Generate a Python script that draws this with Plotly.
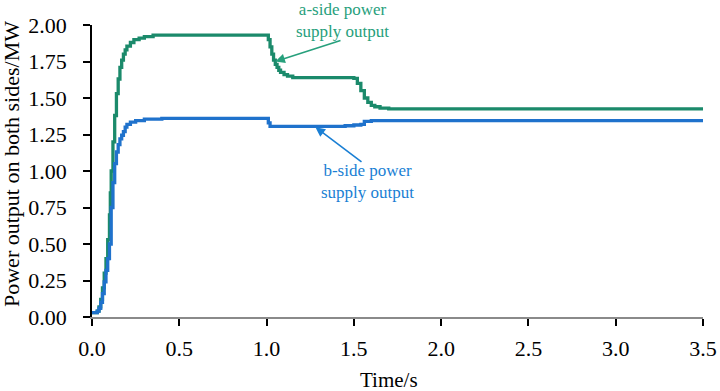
import plotly.graph_objects as go

# a-side power supply output (MW)
t_a = [0.00, 0.02, 0.03, 0.04, 0.05, 0.06, 0.07, 0.08, 0.09, 0.10, 0.105, 0.11, 0.12, 0.13, 0.14,
       0.15, 0.16, 0.17, 0.18, 0.19, 0.20, 0.22, 0.24, 0.27, 0.30, 0.35, 1.00, 1.01, 1.02, 1.03,
       1.04, 1.05, 1.06, 1.07, 1.08, 1.10, 1.12, 1.15, 1.50, 1.52, 1.54, 1.56, 1.58, 1.60, 1.62,
       1.65, 1.70, 3.50]
p_a = [0.03, 0.03, 0.04, 0.07, 0.12, 0.20, 0.30, 0.40, 0.53, 0.70, 0.85, 1.00, 1.20, 1.38, 1.53,
       1.63, 1.71, 1.76, 1.80, 1.83, 1.855, 1.88, 1.90, 1.91, 1.92, 1.93, 1.93, 1.90, 1.85, 1.80,
       1.76, 1.73, 1.71, 1.69, 1.675, 1.66, 1.65, 1.64, 1.635, 1.60, 1.55, 1.50, 1.47, 1.45, 1.44,
       1.43, 1.425, 1.425]

# b-side power supply output (MW)
t_b = [0.00, 0.02, 0.03, 0.04, 0.05, 0.06, 0.07, 0.08, 0.09, 0.10, 0.11, 0.12, 0.13, 0.14, 0.15,
       0.16, 0.17, 0.18, 0.19, 0.20, 0.22, 0.25, 0.30, 0.40, 1.00, 1.01, 1.02, 1.40, 1.45, 1.50,
       1.54, 1.56, 1.60, 3.50]
p_b = [0.03, 0.03, 0.04, 0.06, 0.10, 0.16, 0.24, 0.32, 0.40, 0.50, 0.75, 0.92, 1.05, 1.13, 1.18,
       1.22, 1.245, 1.27, 1.30, 1.32, 1.335, 1.345, 1.355, 1.36, 1.36, 1.33, 1.305, 1.305, 1.31, 1.315,
       1.32, 1.34, 1.345, 1.345]

x_ticks = [0.0, 0.5, 1.0, 1.5, 2.0, 2.5, 3.0, 3.5]
y_ticks = [0.00, 0.25, 0.50, 0.75, 1.00, 1.25, 1.50, 1.75, 2.00]

GREEN = "#1b8a6b"
BLUE = "#1f72cc"
GREEN_T = "#27a07c"
BLUE_T = "#1a7fd4"
FONT = "Liberation Serif"

W, H = 720, 391
L, R, T, B = 92, 17, 25, 74
pw, ph = W - L - R, H - T - B


def px_x(px):
    return (px - L) / pw


def px_y(py):
    return 1 - (py - T) / ph


def head_px(x, y):
    return L + x / 3.5 * pw, T + (1 - y / 2.0) * ph


fig = go.Figure()
fig.add_trace(go.Scatter(x=t_a, y=p_a, mode="lines", line=dict(color=GREEN, width=3.3, shape="hv"),
                         name="a-side", showlegend=False))
fig.add_trace(go.Scatter(x=t_b, y=p_b, mode="lines", line=dict(color=BLUE, width=3.3, shape="hv"),
                         name="b-side", showlegend=False))

for (hx, hy, tx, ty, col) in [(1.05, 1.75, 342, 40, GREEN_T), (1.28, 1.30, 363, 163, BLUE_T)]:
    hpx, hpy = head_px(hx, hy)
    fig.add_annotation(x=hx, y=hy, xref="x", yref="y", ax=tx - hpx, ay=ty - hpy,
                       text="", showarrow=True, arrowhead=2, arrowsize=1.2, arrowwidth=1.6,
                       arrowcolor=col)


def label(px, py, text, size, color, angle=0):
    fig.add_annotation(x=px_x(px), y=px_y(py), xref="paper", yref="paper", text=text,
                       xanchor="center", yanchor="middle", textangle=angle, showarrow=False,
                       font=dict(family=FONT, size=size, color=color))


label(342, 20, "a-side power<br>supply output", 17, GREEN_T)
label(367, 181, "b-side power<br>supply output", 17, BLUE_T)
label(389, 380, "Time/s", 21, "black")
label(11, 164, "Power output on both sides/MW", 22, "black", -90)

fig.update_layout(
    width=W, height=H,
    margin=dict(l=L, r=R, t=T, b=B, autoexpand=False),
    plot_bgcolor="white", paper_bgcolor="white",
    font=dict(family=FONT, size=22, color="black"),
    xaxis=dict(range=[0, 3.5], tickvals=x_ticks, ticktext=[f"{v:.1f}" for v in x_ticks],
               showgrid=False, zeroline=False, showline=True, linecolor="#8a8a8a", linewidth=1.5,
               ticks="outside", ticklen=7, tickwidth=1.5, tickcolor="black", automargin=False,
               ticklabelstandoff=4, ticklabeloverflow="allow"),
    yaxis=dict(range=[0, 2.0], tickvals=y_ticks, ticktext=[f"{v:.2f}" for v in y_ticks],
               showgrid=False, zeroline=False, showline=True, linecolor="black", linewidth=1.5,
               ticks="outside", ticklen=7, tickwidth=1.5, tickcolor="black", automargin=False,
               ticklabelstandoff=12),
)

fig.write_html("out.html", config={"displayModeBar": False},
               post_script="document.body.style.margin='0px';")
